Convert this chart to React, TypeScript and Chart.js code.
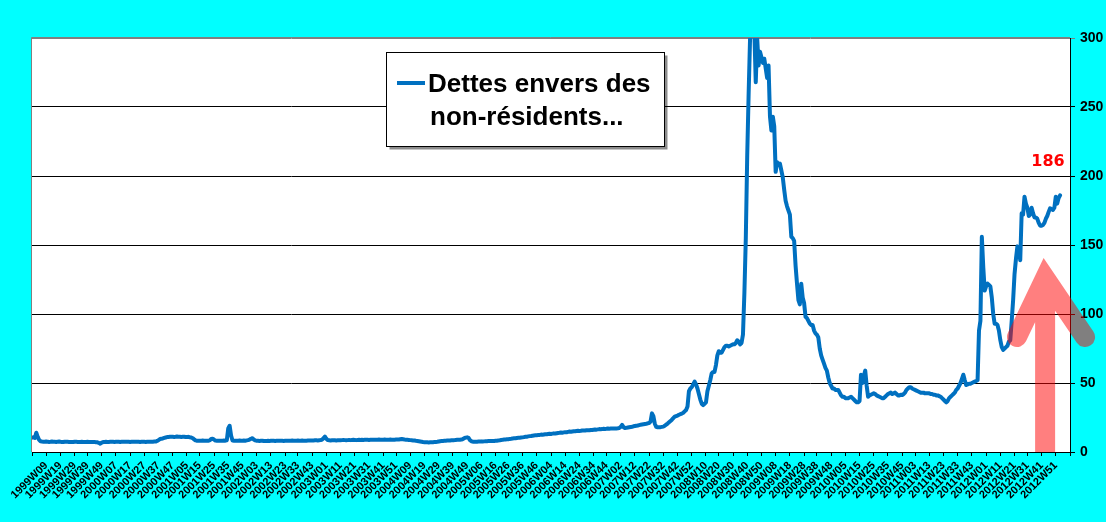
import React, { useEffect, useRef } from "react";
import Chart from "chart.js/auto";

// weekly series, one array per year (1999 starts at week 9)
const weeksPerYear: [number, number, number][] = [
  // [year, first week, last week]
  [1999, 9, 52],
  [2000, 1, 52],
  [2001, 1, 52],
  [2002, 1, 52],
  [2003, 1, 52],
  [2004, 1, 53],
  [2005, 1, 52],
  [2006, 1, 52],
  [2007, 1, 52],
  [2008, 1, 52],
  [2009, 1, 53],
  [2010, 1, 52],
  [2011, 1, 52],
  [2012, 1, 52],
  [2013, 1, 9],
];

const y1999 = [
  10.4, 10.6, 10.2, 14, 11, 8.8, 7.8, 7.6, 7.5, 7.4,
  7.6, 7.5, 7.3, 7.4, 7.6, 7.5, 7.4, 7.3, 7.5, 7.6,
  7.4, 7.3, 7.2, 7.4, 7.5, 7.4, 7.3, 7.2, 7.3, 7.2,
  7.4, 7.5, 7.3, 7.2, 7.3, 7.4, 7.3, 7.2, 7.3, 7.4,
  7.3, 7.2, 7.3, 7.2,
];
const y2000 = [
  7.2, 7.1, 7.0, 6.6, 6.0, 6.8, 7.2, 7.3, 7.4, 7.3,
  7.3, 7.4, 7.5, 7.4, 7.3, 7.4, 7.5, 7.4, 7.3, 7.4,
  7.5, 7.4, 7.4, 7.5, 7.4, 7.3, 7.4, 7.5, 7.4, 7.4,
  7.5, 7.4, 7.3, 7.4, 7.5, 7.4, 7.3, 7.4, 7.5, 7.4,
  7.4, 7.5, 7.6, 7.6, 8.0, 8.6, 9.4, 9.6, 9.8, 10.2,
  10.5, 10.8,
];
const y2001 = [
  10.9, 11.0, 11.1, 11.0, 10.9, 11.0, 11.2, 11.1, 11.0, 10.9,
  11.0, 11.1, 10.9, 10.8, 11.0, 10.7, 10.5, 10.0, 9.2, 8.4,
  8.2, 8.2, 8.1, 8.2, 8.3, 8.2, 8.2, 8.1, 8.2, 8.4,
  9.4, 9.6, 9.0, 8.3, 8.2, 8.2, 8.1, 8.2, 8.2, 8.3,
  8.2, 8.5, 17, 19, 12, 8.3, 8.2, 8.1, 8.2, 8.2,
  8.3, 8.2,
];
const y2002 = [
  8.2, 8.3, 8.2, 8.4, 8.6, 9.0, 9.6, 10.0, 9.0, 8.4,
  8.2, 8.1, 8.0, 8.1, 8.2, 8.0, 7.9, 8.0, 8.1, 8.0,
  8.1, 8.2, 8.1, 8.0, 8.1, 8.2, 8.1, 8.2, 8.1, 8.0,
  8.1, 8.2, 8.2, 8.1, 8.2, 8.3, 8.2, 8.1, 8.2, 8.3,
  8.2, 8.2, 8.3, 8.2, 8.1, 8.2, 8.3, 8.4, 8.3, 8.4,
  8.4, 8.5,
];
const y2003 = [
  8.5, 8.4, 8.5, 8.6, 9.0, 10.0, 11.2, 9.6, 8.6, 8.5,
  8.4, 8.5, 8.6, 8.5, 8.4, 8.5, 8.6, 8.5, 8.6, 8.7,
  8.6, 8.5, 8.6, 8.7, 8.6, 8.7, 8.8, 8.7, 8.6, 8.7,
  8.8, 8.7, 8.8, 8.7, 8.8, 8.9, 8.8, 8.7, 8.8, 8.9,
  8.8, 8.9, 8.8, 8.9, 9.0, 8.9, 8.8, 8.9, 9.0, 8.9,
  8.8, 8.9,
];
const y2004 = [
  9.0, 8.9, 8.8, 8.9, 9.0, 9.1, 9.0, 9.2, 9.4, 9.2,
  9.0, 8.9, 8.8, 8.7, 8.6, 8.5, 8.4, 8.3, 8.1, 8.0,
  7.8, 7.6, 7.4, 7.2, 7.1, 7.0, 7.0, 6.9, 7.0, 7.0,
  7.1, 7.2, 7.3, 7.4, 7.6, 7.8, 7.9, 8.0, 8.1, 8.2,
  8.3, 8.4, 8.4, 8.5, 8.6, 8.6, 8.7, 8.8, 8.8, 8.9,
  9.0, 9.4, 10.0,
];
const y2005 = [
  10.4, 10.6, 10.2, 8.6, 7.8, 7.5, 7.5, 7.4, 7.5, 7.6,
  7.6, 7.7, 7.6, 7.7, 7.8, 7.8, 7.9, 7.9, 8.0, 8.0,
  8.0, 8.1, 8.2, 8.4, 8.5, 8.7, 8.8, 9.0, 9.1, 9.2,
  9.3, 9.5, 9.6, 9.8, 9.9, 10.0, 10.2, 10.3, 10.4, 10.5,
  10.6, 10.8, 11.0, 11.1, 11.3, 11.5, 11.6, 11.8, 12.0, 12.1,
  12.2, 12.3,
];
const y2006 = [
  12.4, 12.6, 12.5, 12.7, 12.9, 12.8, 13.0, 13.2, 13.1, 13.3,
  13.5, 13.4, 13.6, 13.8, 13.9, 14.1, 14.0, 14.2, 14.4, 14.3,
  14.6, 14.8, 14.7, 14.9, 15.1, 15.0, 15.2, 15.4, 15.3, 15.4,
  15.6, 15.5, 15.6, 15.8, 15.7, 15.8, 16.0, 15.9, 16.1, 16.3,
  16.2, 16.4, 16.6, 16.5, 16.6, 16.8, 16.7, 16.8, 17.0, 16.9,
  17.0, 17.1,
];
const y2007 = [
  17.0, 17.1, 17.1, 17.2, 17.4, 18.2, 19.6, 18.0, 17.4, 17.5,
  17.7, 17.9, 18.1, 18.3, 18.6, 18.8, 19.0, 19.2, 19.5, 19.7,
  19.9, 20.1, 20.3, 20.5, 20.8, 21.0, 22.0, 28.0, 26.0, 20.5,
  18.2, 17.9, 17.9, 18.0, 18.2, 18.4, 19.0, 19.8, 20.6, 21.5,
  22.4, 23.4, 24.5, 25.6, 26.0, 26.4, 27.0, 27.4, 27.8, 28.4,
  29.4, 30.4,
];
const y2008 = [
  33, 44, 46, 47, 49, 51, 49, 46, 42, 38,
  35, 34, 35, 36, 44, 48, 52, 57, 58, 58,
  63, 70, 73, 72, 72, 74, 76, 77, 77, 76.5,
  77, 77.5, 78, 78, 79, 81, 80, 78, 79, 85,
  115, 155, 215, 260, 300, 315, 320, 305, 268, 300,
  280, 290,
];
const y2009 = [
  286, 282, 285, 278, 271, 280, 243, 233, 243, 236,
  203, 210, 208, 209, 204, 199, 190, 182, 178, 175,
  172, 156, 155, 153, 135, 122, 110, 107, 122, 112,
  108, 98, 97, 95, 93, 92, 92, 88, 86, 85,
  83, 75, 70, 67, 64, 61, 59, 54, 50, 48,
  46, 46, 45,
];
const y2010 = [
  45, 45, 43, 41, 40, 40, 39, 39, 39, 39.5,
  40, 39, 38, 37, 36, 36, 37, 56, 50, 55,
  59, 48, 40, 41, 41.5, 42, 42.5, 42, 41, 40.5,
  40, 39.5, 39, 39, 40, 41, 42, 42.5, 43, 42,
  42.5, 43, 42, 41, 41, 41.5, 41.3, 42, 43, 45,
  46, 47,
];
const y2011 = [
  47, 46, 45.5, 45, 44.5, 44, 43.5, 43, 43, 43,
  42.5, 42.5, 42.5, 42.5, 42, 42, 41.5, 41.5, 41, 41,
  40.5, 40, 39, 38, 37, 36, 37, 39, 40, 41,
  42, 43, 45, 46, 48, 50, 53, 56, 52, 48.5,
  49, 49.5, 49.5, 50, 50.5, 51, 51.5, 52, 88, 95,
  156, 134,
];
const y2012 = [
  117, 120, 122, 121, 120, 112, 100, 93, 93, 92,
  88, 81, 76, 74, 75, 76, 77, 80, 81, 95,
  110, 129, 140, 149, 148, 139, 173, 172, 185, 180,
  177, 171, 172, 177, 173, 170, 170, 169, 166, 164,
  164, 164.5, 166, 169, 171, 174, 176.6, 176, 175.4, 177,
  185, 180,
];
const y2013 = [184, 186];

const yTicks = [0, 50, 100, 150, 200, 250, 300];

const weekLabels: string[] = [];
weeksPerYear.forEach(([year, from, to]) => {
  for (let w = from; w <= to; w++) {
    weekLabels.push(`${year}W${String(w).padStart(2, "0")}`);
  }
});

const values = [
  ...y1999, ...y2000, ...y2001, ...y2002, ...y2003, ...y2004, ...y2005,
  ...y2006, ...y2007, ...y2008, ...y2009, ...y2010, ...y2011, ...y2012,
  ...y2013,
];

// the axis shows every 10th week (1999W09 ... 2012W51) on 74 evenly spaced tick marks
const LABEL_STEP = 10;
const LABEL_COUNT = 73;
const TICK_INTERVALS = 74;
const tickText = new Map<number, string>();
tickText.set(0, "");
tickText.set(weekLabels.length - 1, "");
for (let k = 0; k < LABEL_COUNT; k++) {
  const at = Math.round(((k + 1) * (weekLabels.length - 1)) / TICK_INTERVALS);
  tickText.set(at, weekLabels[k * LABEL_STEP]);
}

// annotation anchors (in data units: week index, value)
const calloutText = "186";
const calloutAt = { x: 714.5, y: 210.5 };
const arrowShaft = { x: 712.5, from: -10, to: 120 };
const arrowHead = { left: [692.7, 83.3], tip: [712.5, 126], right: [740.6, 83.3] };

const SANS = "'Liberation Sans', Arial, sans-serif";

const decorPlugin = {
  id: "decor",
  beforeDraw(chart: any) {
    const { ctx, chartArea: a, width, height } = chart;
    ctx.save();
    ctx.fillStyle = "#00FFFF";
    ctx.fillRect(0, 0, width, height);
    ctx.fillStyle = "#FFFFFF";
    ctx.fillRect(a.left, a.top, a.right - a.left, a.bottom - a.top);
    ctx.strokeStyle = "#808080";
    ctx.lineWidth = 1;
    ctx.beginPath();
    ctx.moveTo(a.left - 0.5, a.bottom);
    ctx.lineTo(a.left - 0.5, a.top - 0.5);
    ctx.lineTo(a.right, a.top - 0.5);
    ctx.stroke();
    ctx.restore();
  },
  afterDraw(chart: any) {
    const { ctx, scales } = chart;
    const xs = scales.x;
    const ys = scales.y;
    const px = (v: number) => xs.getPixelForValue(v);
    const py = (v: number) => ys.getPixelForValue(v);

    // legend box
    const lx = 386.5, ly = 52.5, lw = 278, lh = 94;
    ctx.save();
    ctx.fillStyle = "rgba(0,0,0,0.45)";
    ctx.fillRect(lx + 3, ly + 3, lw, lh);
    ctx.fillStyle = "#FFFFFF";
    ctx.fillRect(lx, ly, lw, lh);
    ctx.strokeStyle = "#000000";
    ctx.lineWidth = 1;
    ctx.strokeRect(lx, ly, lw, lh);
    ctx.strokeStyle = "#0070C0";
    ctx.lineWidth = 4;
    ctx.beginPath();
    ctx.moveTo(397, 83);
    ctx.lineTo(425, 83);
    ctx.stroke();
    ctx.fillStyle = "#000000";
    ctx.font = `bold 26px ${SANS}`;
    ctx.textBaseline = "alphabetic";
    ctx.textAlign = "left";
    ctx.fillText("Dettes envers des", 428, 92);
    ctx.fillText("non-résidents...", 430, 125);
    ctx.restore();

    // value callout
    ctx.save();
    ctx.fillStyle = "#FF0000";
    ctx.font = "bold 16px 'DejaVu Sans', Verdana, sans-serif";
    ctx.textAlign = "center";
    ctx.textBaseline = "middle";
    ctx.fillText(calloutText, px(calloutAt.x), py(calloutAt.y));
    ctx.restore();

    // translucent arrow
    ctx.save();
    ctx.beginPath();
    ctx.rect(0, 0, chart.width, ys.bottom);
    ctx.clip();
    ctx.strokeStyle = "rgba(255,0,0,0.5)";
    ctx.lineWidth = 20;
    ctx.lineCap = "round";
    ctx.lineJoin = "miter";
    ctx.beginPath();
    ctx.moveTo(px(arrowHead.left[0]), py(arrowHead.left[1]));
    ctx.lineTo(px(arrowHead.tip[0]), py(arrowHead.tip[1]));
    ctx.lineTo(px(arrowHead.right[0]), py(arrowHead.right[1]));
    ctx.moveTo(px(arrowShaft.x), py(arrowShaft.to));
    ctx.lineTo(px(arrowShaft.x), py(arrowShaft.from));
    ctx.stroke();
    ctx.restore();
  },
};

const DebtChart: React.FC = () => {
  const chartRef = useRef<HTMLCanvasElement | null>(null);
  const chartInstance = useRef<Chart | null>(null);

  useEffect(() => {
    if (!chartRef.current) return;
    if (chartInstance.current) chartInstance.current.destroy();

    chartInstance.current = new Chart(chartRef.current, {
      type: "line",
      data: {
        labels: weekLabels,
        datasets: [
          {
            label: "Dettes envers des non-résidents...",
            data: values,
            borderColor: "#0070C0",
            borderWidth: 4,
            pointRadius: 0,
            tension: 0,
            borderJoinStyle: "round",
            borderCapStyle: "round",
            clip: 0,
          },
        ],
      },
      options: {
        animation: false,
        responsive: true,
        maintainAspectRatio: false,
        layout: { padding: { left: 32, top: 38, right: 0, bottom: 0 } },
        plugins: {
          legend: { display: false },
          tooltip: { enabled: false },
        },
        scales: {
          x: {
            type: "category",
            offset: false,
            afterFit: (scale: any) => {
              scale.height = 70;
            },
            grid: {
              drawOnChartArea: false,
              tickLength: 4,
              color: "#000000",
            },
            border: { color: "#000000", width: 1 },
            ticks: {
              autoSkip: false,
              maxRotation: 45,
              minRotation: 45,
              padding: 3,
              color: "#000000",
              font: { family: SANS, size: 11, weight: "bold" },
              callback: (_v: any, i: number) =>
                tickText.has(i) ? tickText.get(i) : null,
            },
          },
          y: {
            position: "right",
            min: 0,
            max: 300,
            afterFit: (scale: any) => {
              scale.width = 36;
            },
            afterBuildTicks: (scale: any) => {
              scale.ticks = yTicks.map((v) => ({ value: v }));
            },
            grid: {
              color: (c: any) => (c.tick && c.tick.value === 300 ? "#808080" : "#000000"),
              tickLength: 5,
            },
            border: { color: "#000000", width: 1 },
            ticks: {
              padding: 5,
              color: "#000000",
              font: { family: SANS, size: 14, weight: "bold" },
            },
          },
        },
      },
      plugins: [decorPlugin],
    } as any);

    return () => {
      if (chartInstance.current) {
        chartInstance.current.destroy();
        chartInstance.current = null;
      }
    };
  }, []);

  return (
    <div style={{ position: "absolute", left: 0, top: 0, width: 1106, height: 522 }}>
      <canvas ref={chartRef} />
    </div>
  );
};

export default function App() {
  return <DebtChart />;
}
